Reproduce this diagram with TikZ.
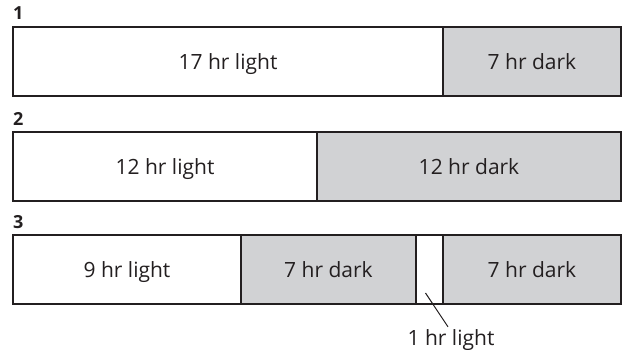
\documentclass[tikz,border=0pt]{standalone}
\usepackage{fontspec}
\setmainfont{Open Sans}
\usetikzlibrary{positioning}
\definecolor{inkgray}{RGB}{35,31,32}
\definecolor{darkfill}{RGB}{209,210,212}
\tikzset{
	seg/.style={draw=inkgray, line width=2.4pt, minimum height=69pt, inner sep=0pt, outer sep=0pt, text=inkgray, font=\fontsize{21}{24}\selectfont, text height=19pt, text depth=3pt},
	lightseg/.style={seg, fill=white, minimum width=#1},
	darkseg/.style={seg, fill=darkfill, minimum width=#1},
	numlabel/.style={inner sep=0pt, text=inkgray, font=\fontsize{18}{20}\selectfont\bfseries}
}
\begin{document}
\begin{tikzpicture}[x=1pt, y=-1pt]
	\useasboundingbox (0, 0) rectangle (623, 350);
	% bar 1
	\node[lightseg=430pt, anchor=north west] (l1) at (13, 27) {17 hr light};
	\node[darkseg=178pt, right=0pt of l1] (d1) {7 hr dark};
	\node[numlabel, anchor=base west] (n1) at ([yshift=7pt]l1.north west) {1};
	% bar 2
	\node[lightseg=304pt, anchor=north west] (l2) at (13, 132) {12 hr light};
	\node[darkseg=304pt, right=0pt of l2] (d2) {12 hr dark};
	\node[numlabel, anchor=base west] (n2) at ([yshift=7pt]l2.north west) {2};
	% bar 3
	\node[lightseg=228pt, anchor=north west] (l3) at (13, 235) {9 hr light};
	\node[darkseg=175pt, right=0pt of l3] (d3) {7 hr dark};
	\node[lightseg=27pt, right=0pt of d3] (w3) {};
	\node[darkseg=178pt, right=0pt of w3] (e3) {7 hr dark};
	\node[numlabel, anchor=base west] (n3) at ([yshift=7pt]l3.north west) {3};
	% pointer to the short light period
	\node[inner sep=0pt, text=inkgray, font=\fontsize{21}{24}\selectfont, anchor=base] (onehr) at (451, 345) {1 hr light};
	\coordinate (tip) at ([xshift=-4pt, yshift=11pt]w3.south);
	\draw[inkgray, line width=1pt] (tip) -- ([xshift=-3pt, yshift=2pt]onehr.north);
\end{tikzpicture}
\end{document}
